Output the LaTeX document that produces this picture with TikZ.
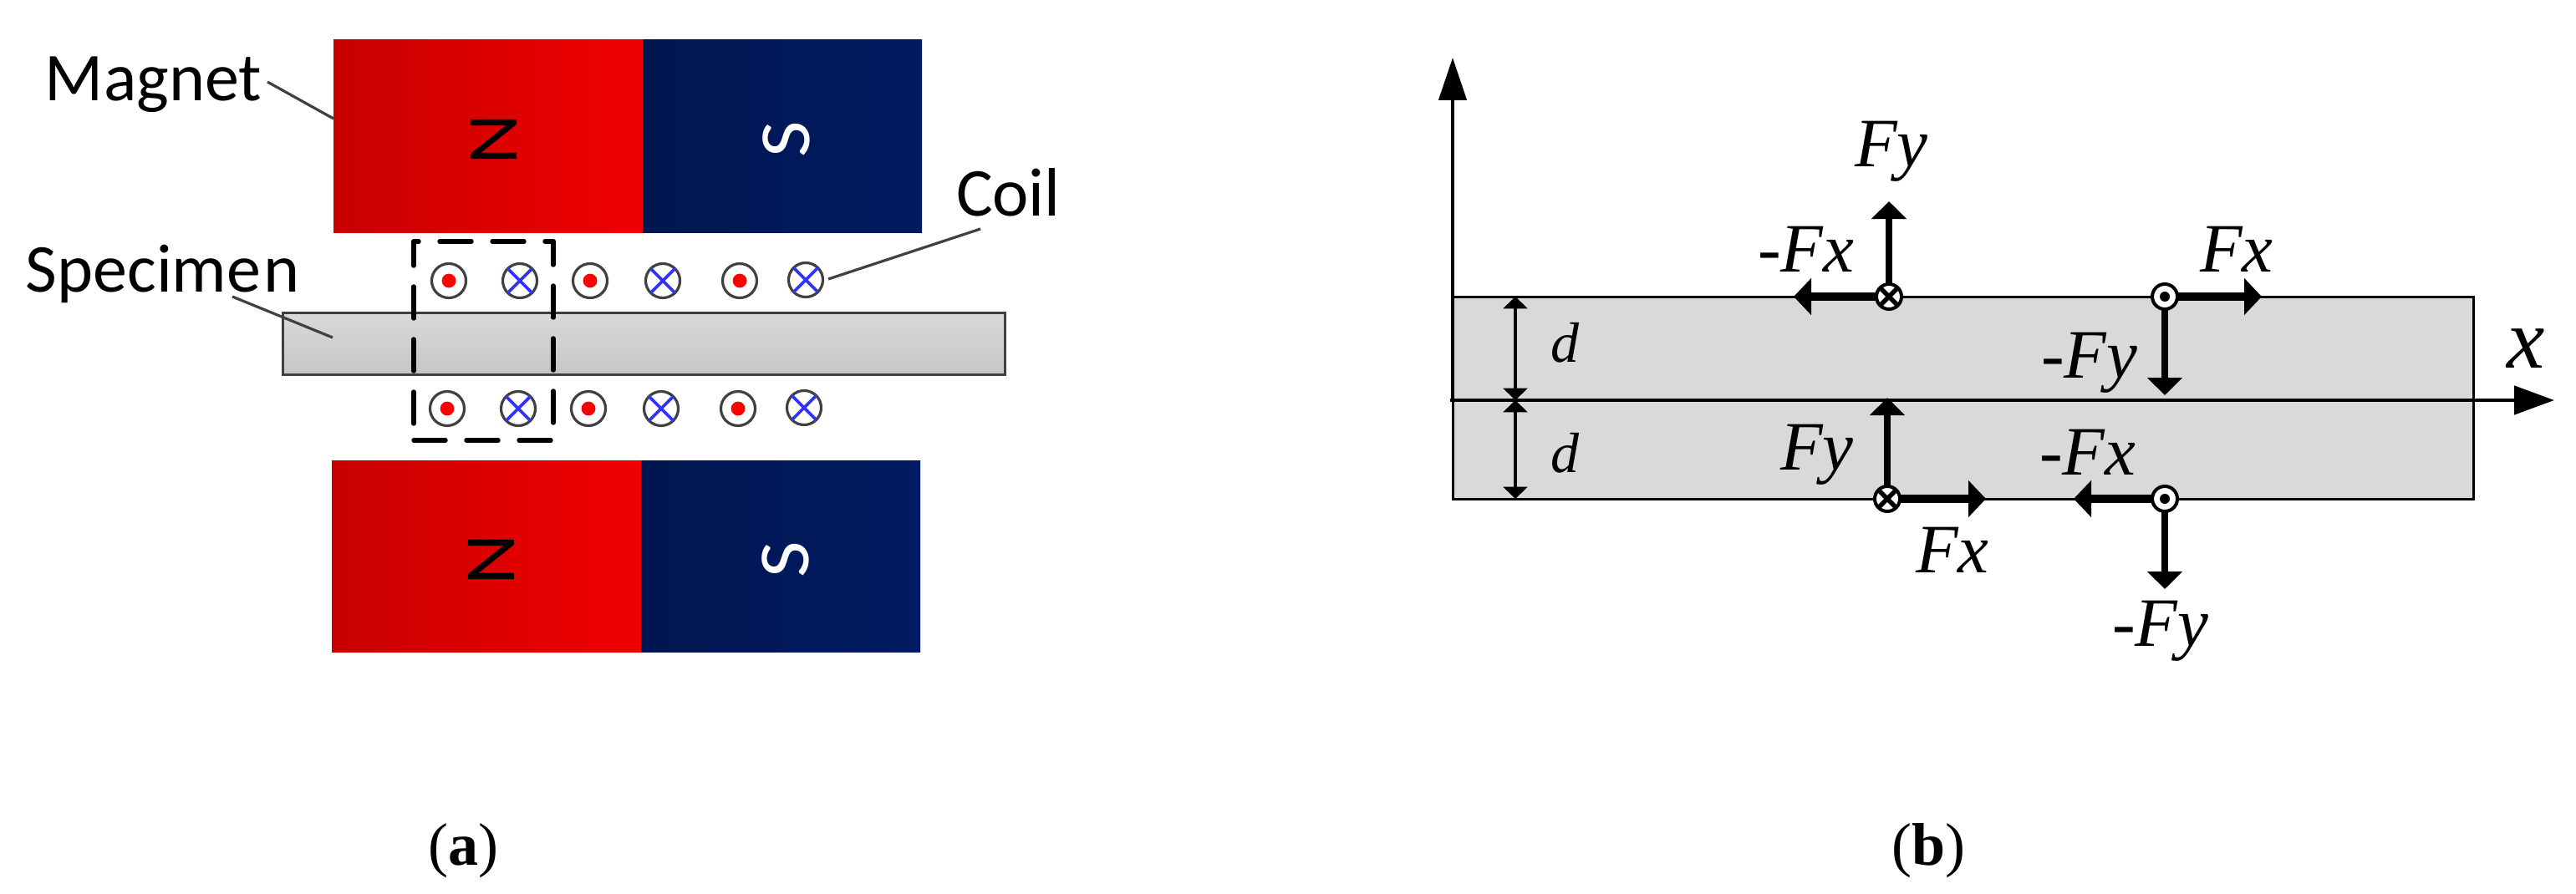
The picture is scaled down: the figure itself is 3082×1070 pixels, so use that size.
\documentclass[tikz,border=0pt]{standalone}
\usepackage{fontspec}
\usetikzlibrary{arrows.meta}
\newfontfamily\calfont{Carlito}
\newfontfamily\serfont{Liberation Serif}
\definecolor{redL}{RGB}{200,0,0}
\definecolor{redR}{RGB}{240,0,0}
\definecolor{navyL}{RGB}{0,22,80}
\definecolor{navyR}{RGB}{0,27,98}
\definecolor{specT}{RGB}{218,218,218}
\definecolor{specB}{RGB}{197,197,197}
\definecolor{stroke}{RGB}{64,64,64}
\definecolor{panel}{RGB}{217,217,217}
\definecolor{xblue}{RGB}{51,51,255}
\tikzset{
  lbl/.style={inner sep=0pt,outer sep=0pt,anchor=base west,font=\calfont\fontsize{41}{41}\selectfont},
  pole/.style={inner sep=0pt,outer sep=0pt,rotate=90,xscale=1.1,font=\calfont\fontsize{43}{43}\selectfont},
  leader/.style={draw=stroke,line width=1.6pt},
  redmag/.style={left color=redL,right color=redR},
  navymag/.style={left color=navyL,right color=navyR},
  coil/.style={circle,draw=stroke,line width=1.6pt,fill=white,minimum size=20.5pt,inner sep=0pt,outer sep=0pt},
  xline/.style={draw=xblue,line width=1.8pt},
  boxdash/.style={draw=black,line width=2.7pt,line cap=round,dash pattern=on 19pt off 12.5pt},
  force/.style={inner sep=0pt,outer sep=0pt,anchor=base west,font=\serfont\itshape\fontsize{41.5}{41.5}\selectfont},
  wire/.style={circle,draw=black,line width=2pt,fill=white,inner sep=0pt,outer sep=0pt,minimum size=15pt},
  forceH/.style={draw=black,line width=4.6pt,-{Triangle[length=10.5pt,width=21.5pt]}},
  forceV/.style={draw=black,line width=3.8pt,-{Triangle[length=10.5pt,width=20.5pt]}},
  dimline/.style={draw=black,line width=1.6pt,{Triangle[length=7.2pt,width=14.5pt]}-{Triangle[length=7.2pt,width=14.5pt]}},
  captxt/.style={inner sep=0pt,outer sep=0pt,anchor=base,font=\serfont\fontsize{36}{36}\selectfont},
}
\begin{document}
\begin{tikzpicture}[x=0.5pt,y=-0.5pt]
\path[use as bounding box,fill=white] (0,0) rectangle (3082,1070);
% magnets
\shade[redmag] (399,48) rectangle (769.5,278);
\shade[navymag] (769,48) rectangle (1103,278);
\shade[redmag] (397,551) rectangle (767.5,780);
\shade[navymag] (767,551) rectangle (1101,780);
\node[pole,text=black] (n1) at (590.5,167) {N};
\node[pole,text=white] (s1) at (941,167) {S};
\node[pole,text=black] (n2) at (588,670) {N};
\node[pole,text=white] (s2) at (940,670) {S};
% specimen
\shade[top color=specT,bottom color=specB,draw=stroke,line width=1.5pt] (338,374) rectangle (1202,448);
% coils
\foreach \n/\x/\y in {a/537/336,c/706/336,e/885/336,g/535/489,i/704/489,k/883/489}{
  \node[coil] (\n) at (\x,\y) {};
  \fill[red] (\n) circle [radius=4.2pt];
}
\foreach \n/\x/\y in {b/622/336,d/793/336,f/964/335,h/620/489,j/791/489,l/962/488}{
  \node[coil] (\n) at (\x,\y) {};
  \draw[xline] (\n.45) -- (\n.225);
  \draw[xline] (\n.135) -- (\n.315);
}
% dashed box
\coordinate (tl) at (495,289);
\coordinate (tr) at (662,289);
\coordinate (bl) at (495,527);
\coordinate (br) at (662,527);
\draw[boxdash,dash phase=4.5pt] (tl) -- (bl);
\draw[boxdash] (bl) -- (br);
\draw[boxdash,dash phase=21pt] (br) -- (tr);
\draw[boxdash,dash phase=14pt] (tr) -- (tl);
% labels and leaders
\node[lbl] (magnet) at (54,120) {Magnet};
\node[lbl] (specimen) at (31,349) {Specime\kern1.5pt n};
\node[lbl] (coillabel) at (1144,258) {Coil};
\coordinate (magA) at (320,98);
\coordinate (magB) at (399,142);
\coordinate (speA) at (278,355);
\coordinate (speB) at (398,404);
\coordinate (coiA) at (1173,274);
\coordinate (coiB) at (991,334);
\draw[leader] (magA) -- (magB);
\draw[leader] (speA) -- (speB);
\draw[leader] (coiA) -- (coiB);
% panel b
\fill[panel] (1738,355) rectangle (2959,597);
\draw[black,line width=1.5pt] (1738,355) rectangle (2959,597);
\coordinate (org) at (1738,479);
\coordinate (xstart) at (1735,479);
\coordinate (ytip) at (1738,69);
\coordinate (xtip) at (3056,479);
\draw[line width=2.3pt,-{Triangle[length=25.5pt,width=16.5pt]}] (org) -- (ytip);
\draw[line width=2.3pt,-{Triangle[length=24pt,width=17pt]}] (xstart) -- (xtip);
% d dimensions
\coordinate (dA) at (1813,355);
\coordinate (dB) at (1813,479);
\coordinate (dC) at (1813,597);
\draw[dimline] (dA) -- (dB);
\draw[dimline] (dB) -- (dC);
\node[force,font=\serfont\itshape\fontsize{34}{34}\selectfont] (d1) at (1855,433) {d};
\node[force,font=\serfont\itshape\fontsize{34}{34}\selectfont] (d2) at (1855,565) {d};
% wires
\node[wire] (w1) at (2260,355) {};
\node[wire] (w2) at (2590,355) {};
\node[wire] (w3) at (2258,597) {};
\node[wire] (w4) at (2590,597) {};
\foreach \w in {w1,w3}{
  \draw[line width=2.7pt,shorten <=1pt,shorten >=1pt] (\w.45) -- (\w.225);
  \draw[line width=2.7pt,shorten <=1pt,shorten >=1pt] (\w.135) -- (\w.315);
}
\foreach \w in {w2,w4}{ \fill[black] (\w) circle [radius=3pt]; }
\coordinate (t1u) at (2260,241);
\coordinate (t1l) at (2146,355);
\coordinate (t2r) at (2706,355);
\coordinate (t2d) at (2590,473);
\coordinate (t3u) at (2258,476);
\coordinate (t3r) at (2376,597);
\coordinate (t4l) at (2481,597);
\coordinate (t4d) at (2590,705);
\draw[forceV] (w1) -- (t1u);
\draw[forceH] (w1) -- (t1l);
\draw[forceH] (w2) -- (t2r);
\draw[forceV] (w2) -- (t2d);
\draw[forceV] (w3) -- (t3u);
\draw[forceH] (w3) -- (t3r);
\draw[forceH] (w4) -- (t4l);
\draw[forceV] (w4) -- (t4d);
% force labels
\node[force] (f1) at (2219,199) {Fy};
\node[force] (f2) at (2103,325) {-Fx};
\node[force] (f3) at (2632,325) {Fx};
\node[force] (f4) at (2442,452) {-Fy};
\node[force] (f5) at (2130,562) {Fy};
\node[force] (f6) at (2440,568) {-Fx};
\node[force] (f7) at (2292,685) {Fx};
\node[force] (f8) at (2527,773) {-Fy};
\node[force,font=\serfont\itshape\fontsize{51}{51}\selectfont] (xl) at (2999,440) {x};
% captions
\node[captxt] (capa) at (554,1035) {(\textbf{a})};
\node[captxt] (capb) at (2307,1035) {(\textbf{b})};
\end{tikzpicture}
\end{document}
